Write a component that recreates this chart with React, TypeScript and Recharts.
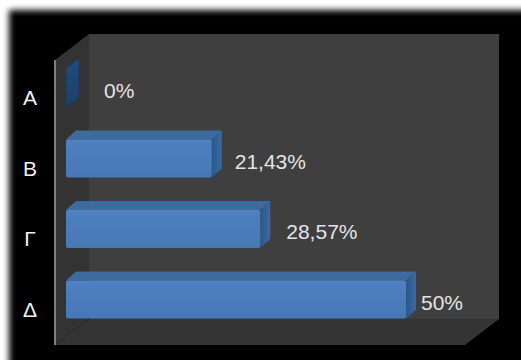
import React from "react";
import { BarChart, Bar, XAxis, YAxis, LabelList } from "recharts";

const categories = ["Α", "Β", "Γ", "Δ"];
const shares = [0, 21.43, 28.57, 50];
const shareLabels = ["0%", "21,43%", "28,57%", "50%"];

const rows = categories.map((name, i) => ({ name, share: shares[i], text: shareLabels[i] }));

const labelGaps: Record<string, number> = { "Α": 38, "Β": 23, "Γ": 26, "Δ": 15 };
const FONT = '"Liberation Sans", Arial, sans-serif';
const DEPTH_X = 10;
const DEPTH_Y = 9;

function Block3D(props: any) {
  const { x, y, width, height } = props;
  if (width < 1) {
    // A zero-length block only shows its end cap, seen in perspective.
    const dx = 13;
    const dy = 9.5;
    const top = y - 1;
    const h = height + 2;
    return (
      <polygon
        points={`${x},${top} ${x + dx},${top - dy} ${x + dx},${top + h - dy - 1} ${x},${top + h}`}
        fill="url(#capFill)"
        stroke="#1d3a5e"
        strokeWidth={1}
      />
    );
  }
  const r = x + width;
  const b = y + height;
  return (
    <g>
      <polygon
        points={`${x},${y} ${x + DEPTH_X},${y - DEPTH_Y} ${r + DEPTH_X},${y - DEPTH_Y} ${r},${y}`}
        fill="#3d6b9f"
      />
      <polygon
        points={`${r},${y} ${r + DEPTH_X},${y - DEPTH_Y} ${r + DEPTH_X},${b - DEPTH_Y} ${r},${b}`}
        fill="url(#sideFill)"
      />
      <rect x={x} y={y} width={width} height={height} rx={2} fill="url(#faceFill)" />
    </g>
  );
}

function CategoryTick(props: any) {
  const { x, y, payload } = props;
  return (
    <text x={x} y={y + 17} textAnchor="middle" fontFamily={FONT} fontSize={21} fill="#f2f2f2">
      {payload.value}
    </text>
  );
}

function ShareLabel(props: any) {
  const { x, y, width, height, index } = props;
  const row = rows[index];
  return (
    <text
      x={x + width + labelGaps[row.name]}
      y={y + height / 2 + 10}
      fontFamily={FONT}
      fontSize={21}
      fill="#e4e4e4"
    >
      {row.text}
    </text>
  );
}

export default function App() {
  return (
    <div style={{ position: "absolute", left: 0, top: 0, width: 521, height: 360, overflow: "hidden", background: "#fff" }}>
      {/* Black panel with a soft edge */}
      <div
        style={{
          position: "absolute",
          left: 9,
          top: 10,
          width: 560,
          height: 400,
          background: "#000",
          filter: "blur(3px)",
        }}
      />
      {/* Room behind the bars: back wall, side wall, floor */}
      <svg width={521} height={360} style={{ position: "absolute", left: 0, top: 0 }}>
        <polygon points="89,34 499,34 499,319 89,319" fill="#3f3f3f" />
        <polygon points="55,60 89,34 89,319 55,345" fill="#333333" />
        <polygon points="55,345 89,319 499,319 465,345" fill="#343434" />
        <line x1={55} y1={60} x2={55} y2={345} stroke="#7d7d7d" strokeWidth={2} />
      </svg>
      <div style={{ position: "absolute", left: 0, top: 0 }}>
        <BarChart
          width={521}
          height={360}
          data={rows}
          layout="vertical"
          margin={{ top: 53, right: 47, bottom: 25, left: 0 }}
        >
          <defs>
            <linearGradient id="faceFill" x1="0" y1="0" x2="0" y2="1">
              <stop offset="0" stopColor="#5385c6" />
              <stop offset="0.12" stopColor="#4c7fc0" />
              <stop offset="1" stopColor="#4778b6" />
            </linearGradient>
            <linearGradient id="sideFill" x1="0" y1="0" x2="1" y2="0">
              <stop offset="0" stopColor="#2c5688" />
              <stop offset="1" stopColor="#3a6ba6" />
            </linearGradient>
            <linearGradient id="capFill" x1="0" y1="0" x2="0" y2="1">
              <stop offset="0" stopColor="#234b7c" />
              <stop offset="1" stopColor="#1d3d66" />
            </linearGradient>
          </defs>
          <XAxis type="number" domain={[0, 60]} hide />
          <YAxis
            type="category"
            dataKey="name"
            width={66}
            axisLine={false}
            tickLine={false}
            tick={(p: any) => <CategoryTick {...p} x={30} />}
          />
          <Bar dataKey="share" barSize={38} isAnimationActive={false} shape={Block3D}>
            <LabelList dataKey="share" content={ShareLabel} />
          </Bar>
        </BarChart>
      </div>
    </div>
  );
}
